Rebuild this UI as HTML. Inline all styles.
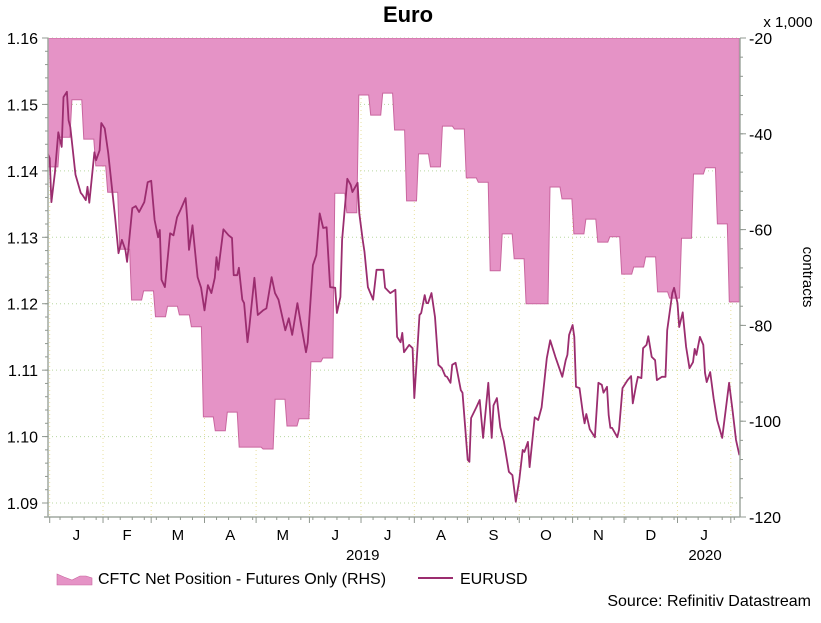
<!DOCTYPE html>
<html><head><meta charset="utf-8"><style>
body{margin:0;background:#fff;}
svg{display:block;font-family:"Liberation Sans",Arial,sans-serif;}
</style></head><body>
<svg id="chart" width="821" height="623" viewBox="0 0 821 623">
<defs><clipPath id="plotclip"><rect x="48" y="38" width="692" height="479"/></clipPath></defs>
<text x="408" y="22" text-anchor="middle" font-size="22" font-weight="bold" fill="#000">Euro</text>
<text x="788" y="27" text-anchor="middle" font-size="15" fill="#000">x 1,000</text>
<text x="0" y="0" transform="translate(803,277) rotate(90)" text-anchor="middle" font-size="15" fill="#000">contracts</text>
<g id="grid"></g>
<g id="area" clip-path="url(#plotclip)"></g>
<g id="line" clip-path="url(#plotclip)"></g>
<g id="axes"></g>
<g>
<g>
<path d="M57,585 L57,574 L64,577 L72,580 L80,576 L86,576 L92,578 L92,585 Z" fill="#e593c6" stroke="#c9669f" stroke-width="0.6"/>
<text x="98" y="584" font-size="16" fill="#000">CFTC Net Position - Futures Only (RHS)</text></g>
<g>
<line x1="418" y1="578" x2="453" y2="578" stroke="#9b2d6f" stroke-width="2"/>
<text x="460" y="584" font-size="16" fill="#000">EURUSD</text></g>
</g>
<text x="811" y="606" text-anchor="end" font-size="16" fill="#000">Source: Refinitiv Datastream</text>
</svg>
<script>
// CFTC net position (thousands of contracts), weekly
const cftcValues = [-46.9,-40.7,-32.9,-41.1,-46.7,-52.2,-64.1,-74.7,-72.8,-78.2,-76.0,-77.8,-80.3,-99.1,-102.0,-98.1,-105.4,-105.4,-105.8,-95.4,-101.0,-99.5,-87.6,-86.8,-52.4,-56.5,-31.9,-36.1,-31.5,-39.2,-54.0,-44.2,-46.9,-38.4,-39.0,-49.2,-50.1,-68.6,-60.9,-66.1,-75.5,-75.5,-51.1,-53.6,-60.9,-57.8,-62.6,-61.5,-69.3,-67.8,-65.7,-73.0,-74.3,-61.8,-48.4,-47.1,-58.8,-75.1];
const cftcFirstWeekDay = -1.6;
const cftcWeekDays = 6.95;
// EURUSD: days since 1 Jan 2019, values
const fxDays = [-2,0,1,3,5,7,8,10,11,12,15,18,19,21,22,23,26,27,29,30,32,34,38,40,42,44,45,48,50,52,55,57,59,61,63,64,65,67,70,72,74,76,79,80,81,83,86,88,90,92,94,96,97,98,101,104,106,107,109,110,112,113,115,116,119,121,124,126,129,131,133,137,139,141,144,146,149,150,153,155,157,159,161,163,166,167,169,170,173,175,176,179,180,182,183,185,188,190,194,195,198,201,202,204,205,206,209,211,212,213,215,216,218,219,220,222,224,226,228,230,231,233,234,236,239,240,243,244,245,248,250,252,255,257,258,260,262,264,267,269,271,273,275,276,278,279,282,284,286,289,291,294,298,300,301,302,304,305,306,308,310,311,312,314,317,319,321,322,324,325,326,327,330,331,333,336,338,339,341,342,344,345,347,348,350,352,353,356,358,359,362,363,365,366,368,370,372,374,375,376,378,380,381,382,384,386,388,391,393,395,397,399,401];
const fxValues = [1.1431,1.1419,1.1353,1.1397,1.1458,1.1436,1.1511,1.1519,1.1476,1.1466,1.1394,1.1367,1.1364,1.1356,1.1376,1.1352,1.1428,1.1416,1.1431,1.1472,1.1464,1.1427,1.1330,1.1276,1.1296,1.1281,1.1263,1.1344,1.1347,1.1338,1.1353,1.1383,1.1385,1.1326,1.1300,1.1311,1.1236,1.1225,1.1306,1.1303,1.1330,1.1341,1.1359,1.1326,1.1281,1.1318,1.1240,1.1224,1.1190,1.1228,1.1216,1.1239,1.1270,1.1251,1.1312,1.1303,1.1299,1.1243,1.1243,1.1254,1.1206,1.1201,1.1142,1.1163,1.1239,1.1183,1.1190,1.1193,1.1240,1.1216,1.1206,1.1160,1.1178,1.1153,1.1201,1.1171,1.1127,1.1141,1.1258,1.1273,1.1336,1.1314,1.1315,1.1225,1.1224,1.1186,1.1210,1.1296,1.1388,1.1379,1.1368,1.1382,1.1336,1.1296,1.1278,1.1225,1.1206,1.1251,1.1251,1.1224,1.1216,1.1221,1.1150,1.1142,1.1156,1.1127,1.1138,1.1133,1.1058,1.1100,1.1183,1.1186,1.1213,1.1201,1.1201,1.1216,1.1180,1.1108,1.1103,1.1091,1.1090,1.1081,1.1108,1.1111,1.1070,1.1066,1.0965,1.0962,1.1028,1.1044,1.1055,1.0998,1.1081,1.0998,1.1047,1.1058,1.1014,1.0993,1.0947,1.0942,1.0902,1.0935,1.0980,1.0977,1.0992,1.0954,1.1029,1.1025,1.1044,1.1118,1.1145,1.1120,1.1090,1.1115,1.1123,1.1153,1.1168,1.1150,1.1075,1.1073,1.1035,1.1020,1.1034,1.1011,1.0999,1.1081,1.1078,1.1066,1.1075,1.1032,1.1013,1.1013,1.0999,1.1010,1.1073,1.1085,1.1091,1.1050,1.1078,1.1090,1.1088,1.1133,1.1138,1.1151,1.1120,1.1115,1.1085,1.1090,1.1090,1.1160,1.1216,1.1224,1.1201,1.1165,1.1187,1.1135,1.1103,1.1112,1.1132,1.1123,1.1150,1.1138,1.1096,1.1082,1.1097,1.1058,1.1025,1.0998,1.1040,1.1081,1.1040,1.0995,1.0972];
const leftTicks = ["1.16","1.15","1.14","1.13","1.12","1.11","1.10","1.09"];
const rightTicks = ["-20","-40","-60","-80","-100","-120"];
const monthLabels = ["J","F","M","A","M","J","J","A","S","O","N","D","J"];
const monthStartDays = [0,31,59,90,120,151,181,212,243,273,304,334,365,396];
const yearLabels = ["2019","2020"];
const yearLabelDays = [182,381];

const NS="http://www.w3.org/2000/svg";
const X0=48,X1=740,Y0=38,Y1=517;
const xDay=d=>49.7+d*1.72;
const yL=v=>38+(1.16-v)*6643;
const yR=v=>38+(-20-v)*4.79;
function mk(tag,attrs,parent){const e=document.createElementNS(NS,tag);for(const k in attrs)e.setAttribute(k,attrs[k]);parent.appendChild(e);return e;}
const grid=document.getElementById('grid'),area=document.getElementById('area'),line=document.getElementById('line'),axes=document.getElementById('axes');

leftTicks.forEach(t=>{const y=yL(parseFloat(t));
  const g=mk('line',{x1:X0,x2:X1,y1:y,y2:y,stroke:'#b8d8a0','stroke-width':1,'stroke-dasharray':'1,3'},grid);
  
  });
monthStartDays.forEach(d=>{const x=xDay(d);if(x<X0||x>X1)return;
  const g=mk('line',{x1:x,x2:x,y1:Y0,y2:Y1,stroke:'#e8e0a0','stroke-width':1,'stroke-dasharray':'1,3'},grid);
  
  });

let pts=[[X0-2,Y0]];
cftcValues.forEach((v,i)=>{const a=xDay(cftcFirstWeekDay+i*cftcWeekDays),b=xDay(cftcFirstWeekDay+(i+1)*cftcWeekDays);const y=yR(v);pts.push([a+1,y]);pts.push([b-1,y]);});
pts.push([pts[pts.length-1][0],Y0]);
const ap=mk('path',{d:'M'+pts.map(p=>p[0].toFixed(1)+','+p[1].toFixed(1)).join(' L')+' Z',fill:'#e593c6',stroke:'#c9669f','stroke-width':1},area);



const lp=mk('path',{d:'M'+fxDays.map((d,i)=>xDay(d).toFixed(1)+','+yL(fxValues[i]).toFixed(1)).join(' L'),fill:'none',stroke:'#9b2d6f','stroke-width':1.8,'stroke-linejoin':'round'},line);



[[X0,Y0,X0,Y1],[X1,Y0,X1,Y1],[X0-4,Y1,X1,Y1]].forEach(c=>{const l=mk('line',{x1:c[0],y1:c[1],x2:c[2],y2:c[3],stroke:'#a0a8a0','stroke-width':1.5},axes);
  
  });
for(let v=1.09;v<=1.1601;v+=0.002){const y=yL(v);mk('line',{x1:X0-3,x2:X0,y1:y,y2:y,stroke:'#909890'},axes);}
leftTicks.forEach(t=>{const y=yL(parseFloat(t));mk('line',{x1:X0-6,x2:X0,y1:y,y2:y,stroke:'#909890'},axes);
  const tx=mk('text',{x:38,y:y+6,'text-anchor':'end','font-size':16,fill:'#000'},axes);tx.textContent=t;
  
  });
for(let v=-120;v<=-20;v+=4){const y=yR(v);mk('line',{x1:X1,x2:X1+3,y1:y,y2:y,stroke:'#909890'},axes);}
rightTicks.forEach(t=>{const y=yR(parseFloat(t));mk('line',{x1:X1,x2:X1+6,y1:y,y2:y,stroke:'#909890'},axes);
  const tx=mk('text',{x:749,y:y+6,'text-anchor':'start','font-size':16,fill:'#000'},axes);tx.textContent=t;
  
  });
monthStartDays.forEach(d=>{const x=xDay(d);mk('line',{x1:x,x2:x,y1:Y1,y2:Y1+6,stroke:'#909890'},axes);});
for(let d=-1;d<=401;d+=7){const x=xDay(d);if(x<X0)continue;mk('line',{x1:x,x2:x,y1:Y1,y2:Y1+3,stroke:'#909890'},axes);}
monthLabels.forEach((m,i)=>{const x=(xDay(monthStartDays[i])+xDay(monthStartDays[i+1]))/2;
  const tx=mk('text',{x:x,y:540,'text-anchor':'middle','font-size':15,fill:'#000'},axes);tx.textContent=m;
  
  });
yearLabels.forEach((t,i)=>{const x=xDay(yearLabelDays[i]);
  const tx=mk('text',{x:x,y:560,'text-anchor':'middle','font-size':15,fill:'#000'},axes);tx.textContent=t;
  
  });
</script>
</body></html>
